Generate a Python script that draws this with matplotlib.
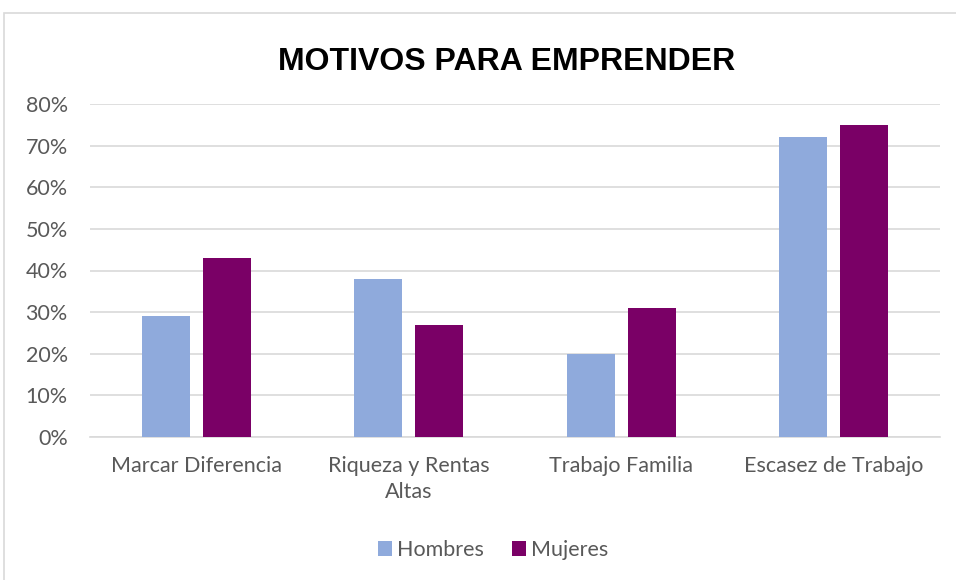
import numpy as np
import matplotlib
matplotlib.use("Agg")
import matplotlib.pyplot as plt
from matplotlib.patches import Rectangle
from matplotlib.ticker import FuncFormatter

categories = ["Marcar Diferencia", "Riqueza y Rentas\nAltas", "Trabajo Familia", "Escasez de Trabajo"]
hombres = [29, 38, 20, 72]
mujeres = [43, 27, 31, 75]
series_names = ["Hombres", "Mujeres"]
colors = ["#8FAADC", "#7A0066"]

plt.rcParams['font.family'] = ['Lato', 'DejaVu Sans']

fig = plt.figure(figsize=(9.56, 5.8), dpi=100)
# chart frame
fig.patches.append(Rectangle((4/956, -0.1), 1.0, (580-13)/580 + 0.1, transform=fig.transFigure,
                             fill=False, edgecolor="#d9d9d9", linewidth=1.2))
ax = fig.add_axes([90/956, 1-437/580, 850/956, (437-104)/580])

x = np.arange(len(categories))
w = 0.226
off = 0.1435
ax.bar(x - off, hombres, w, color=colors[0], label=series_names[0], zorder=3)
ax.bar(x + off, mujeres, w, color=colors[1], label=series_names[1], zorder=3)

ax.set_xlim(-0.5, len(categories) - 0.5)
ax.set_ylim(0, 80)
ax.set_yticks(np.arange(0, 81, 10))
ax.yaxis.set_major_formatter(FuncFormatter(lambda v, p: f"{int(v)}%"))
ax.grid(axis='y', color="#d9d9d9", linewidth=1.2, zorder=0)
ax.set_xticks(x)
ax.set_xticklabels(categories, linespacing=1.35)
ax.tick_params(axis='both', length=0, labelsize=15.5, colors="#595959")
ax.tick_params(axis='y', pad=16)
ax.tick_params(axis='x', pad=14)
for s in ["top", "right", "left"]:
    ax.spines[s].set_visible(False)
ax.spines["bottom"].set_color("#d9d9d9")
ax.spines["bottom"].set_linewidth(1.2)

fig.text(507/956, 1-62/580, "MOTIVOS PARA EMPRENDER", ha="center", va="center",
         fontsize=23, fontweight="bold", family="Liberation Sans", color="black")

leg = fig.legend(loc="center", bbox_to_anchor=(493/956, 1-550/580), ncol=2, frameon=False,
                 fontsize=15.5, handlelength=0.65, handleheight=0.65, handletextpad=0.25,
                 columnspacing=1.3, labelcolor="#595959")

fig.savefig("out.png", dpi=100)
